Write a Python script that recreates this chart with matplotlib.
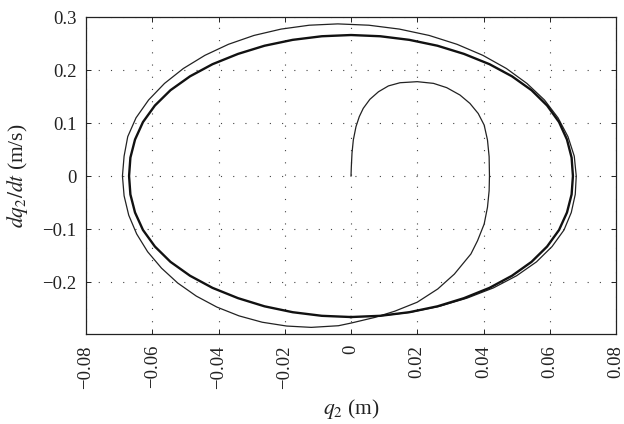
import matplotlib
matplotlib.use("Agg")
import matplotlib.pyplot as plt

# Transient: from the origin around the small loop, down to the bottom of the outer loop
transient_x = [0.0, 0.0001, 0.0003, 0.0007, 0.0015, 0.0025, 0.0037, 0.0057, 0.0083, 0.0113,
               0.0148, 0.02, 0.0249, 0.0289, 0.0329, 0.0359, 0.0384, 0.0402, 0.0412, 0.0417,
               0.0418, 0.0417, 0.0412, 0.0402, 0.0382, 0.0362, 0.0337, 0.0312, 0.0262, 0.02,
               0.0132, 0.0072, 0.0, -0.0038]
transient_y = [0.0, 0.0176, 0.0428, 0.068, 0.093, 0.112, 0.1277, 0.1447, 0.159, 0.170,
               0.176, 0.178, 0.1748, 0.1667, 0.1528, 0.137, 0.118, 0.0962, 0.068, 0.0365,
               0.0, -0.0277, -0.059, -0.0906, -0.122, -0.147, -0.166, -0.185, -0.213, -0.238,
               -0.255, -0.2667, -0.2774, -0.2824]

# Outer (second) loop, converging onto the limit cycle in the lower right
outer_x = [-0.012, -0.0194, -0.0268, -0.0338, -0.0405, -0.0467, -0.0523, -0.0572, -0.0614,
           -0.0647, -0.0671, -0.0685, -0.069,
           -0.0685, -0.0674, -0.0649, -0.0611, -0.0563, -0.0506, -0.0441, -0.0370, -0.0293,
           -0.0211, -0.0126, -0.004,
           0.0054, 0.0146, 0.0236, 0.032, 0.0398, 0.0469, 0.0531, 0.0584, 0.0625, 0.0655,
           0.0674, 0.068,
           0.0677, 0.0665, 0.0643, 0.0607, 0.0560, 0.0500, 0.0430, 0.0350, 0.0267, 0.0180,
           0.0090]
outer_y = [-0.2855, -0.2830, -0.2758, -0.2638, -0.2472, -0.2265, -0.2019, -0.1738, -0.1428,
           -0.1093, -0.0739, -0.0373, 0.0,
           0.0375, 0.0743, 0.1098, 0.1435, 0.1747, 0.2029, 0.2277, 0.2485, 0.2652,
           0.2772, 0.2845, 0.287,
           0.2845, 0.2772, 0.2652, 0.2485, 0.2277, 0.2029, 0.1747, 0.1435, 0.1098, 0.0743,
           0.0375, 0.0,
           -0.0347, -0.0688, -0.1018, -0.133, -0.1619, -0.1881, -0.2110, -0.2304, -0.2458, -0.2569,
           -0.2637]

# Limit cycle
cycle_x = [0.0, -0.0088, -0.0176, -0.0261, -0.0341, -0.0418, -0.0486, -0.0545, -0.0592,
           -0.0628, -0.0652, -0.0666, -0.067,
           -0.0666, -0.0652, -0.0628, -0.0592, -0.0545, -0.0486, -0.0418, -0.0341, -0.0261,
           -0.0176, -0.0088, 0.0,
           0.0088, 0.0176, 0.0261, 0.0341, 0.0418, 0.0486, 0.0545, 0.0592, 0.0628, 0.0652,
           0.0666, 0.067,
           0.0666, 0.0652, 0.0628, 0.0592, 0.0545, 0.0486, 0.0418, 0.0341, 0.0261, 0.0176,
           0.0088, 0.0]
cycle_y = [-0.266, -0.2637, -0.2569, -0.2458, -0.2304, -0.2110, -0.1881, -0.1619, -0.133,
           -0.1018, -0.0688, -0.0347, 0.0,
           0.0347, 0.0688, 0.1018, 0.133, 0.1619, 0.1881, 0.2110, 0.2304, 0.2458,
           0.2569, 0.2637, 0.266,
           0.2637, 0.2569, 0.2458, 0.2304, 0.2110, 0.1881, 0.1619, 0.133, 0.1018, 0.0688,
           0.0347, 0.0,
           -0.0347, -0.0688, -0.1018, -0.133, -0.1619, -0.1881, -0.2110, -0.2304, -0.2458,
           -0.2569, -0.2637, -0.266]

x_ticks = [-0.08, -0.06, -0.04, -0.02, 0, 0.02, 0.04, 0.06, 0.08]
x_tick_labels = ["\u22120.08", "\u22120.06", "\u22120.04", "\u22120.02", "0", "0.02", "0.04", "0.06", "0.08"]
y_ticks = [-0.2, -0.1, 0, 0.1, 0.2, 0.3]
y_tick_labels = ["\u22120.2", "\u22120.1", "0", "0.1", "0.2", "0.3"]

plt.rcParams['font.family'] = ['Liberation Serif', 'DejaVu Serif']
plt.rcParams['mathtext.fontset'] = 'stix'

W, H = 624, 424
fig = plt.figure(figsize=(W / 100, H / 100), dpi=100)
L, R, T, B = 86, 616, 17, 334
ax = fig.add_axes([L / W, 1 - B / H, (R - L) / W, (B - T) / H])

line_color = "#222222"
ax.plot(transient_x + outer_x, transient_y + outer_y, color=line_color, lw=0.9,
        solid_joinstyle='round')
ax.plot(cycle_x, cycle_y, color="#111111", lw=1.7, solid_joinstyle='round')

ax.set_xlim(-0.08, 0.08)
ax.set_ylim(-0.298, 0.3)
ax.set_xticks(x_ticks)
ax.set_xticklabels(x_tick_labels, rotation=90)
ax.set_yticks(y_ticks)
ax.set_yticklabels(y_tick_labels)
ax.tick_params(direction='in', top=True, right=True, labelsize=13.5, length=3.5, width=0.7,
               colors='#222222')
ax.tick_params(axis='x', pad=8)
ax.tick_params(axis='y', pad=7)
ax.grid(True, color='#444444', linestyle=(0, (1, 10)), lw=0.8)
for s in ax.spines.values():
    s.set_linewidth(0.9)
    s.set_color('#222222')

ax.set_xlabel("$q_2$ (m)", fontsize=15.5, va='center', color='#222222')
ax.xaxis.set_label_coords(0.5, (B - 409) / (B - T))
ax.set_ylabel("$dq_2/dt$ (m/s)", fontsize=15.5, va='center', color='#222222')
ax.yaxis.set_label_coords((18 - L) / (R - L), 0.5)

fig.savefig("out.png", dpi=100)
